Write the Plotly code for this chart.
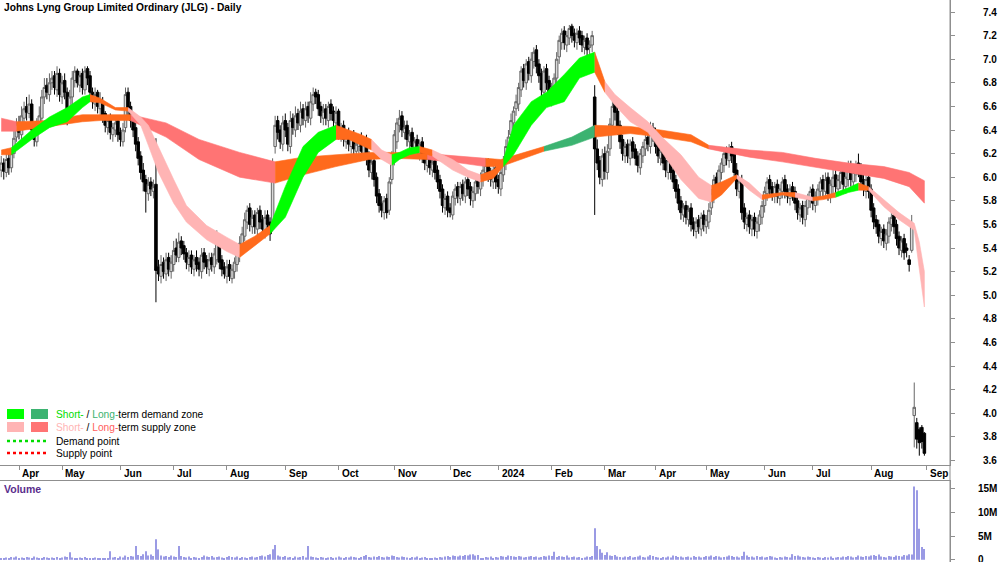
import pandas as pd
import plotly.graph_objects as go

# ---------------- calendar (ASX trading days) ----------------
holidays = ['2023-04-07', '2023-04-10', '2023-04-25', '2023-06-12', '2023-12-25', '2023-12-26',
            '2024-01-01', '2024-01-26', '2024-03-29', '2024-04-01', '2024-04-25', '2024-06-10']
dates = [d for d in pd.bdate_range('2023-03-23', '2024-08-30') if d.strftime('%Y-%m-%d') not in holidays]

month_labels = ['Apr', 'May', 'Jun', 'Jul', 'Aug', 'Sep', 'Oct', 'Nov', 'Dec', '2024',
                'Feb', 'Mar', 'Apr', 'May', 'Jun', 'Jul', 'Aug', 'Sep']

# ---------------- daily prices (cents) ----------------
opens = [
    606, 612, 604, 616, 608, 620, 634, 646, 636, 650,
    660, 654, 662, 640, 630, 646, 650, 668, 678, 670,
    680, 686, 674, 688, 668, 682, 672, 650, 668, 682,
    690, 678, 688, 674, 692, 686, 672, 662, 672, 658,
    664, 654, 642, 650, 636, 640, 648, 638, 630, 642,
    672, 660, 650, 642, 630, 618, 606, 598, 586, 596,
    588, 594, 524, 516, 528, 518, 532, 520, 526, 540,
    532, 546, 542, 536, 526, 534, 522, 532, 528, 520,
    536, 530, 522, 532, 524, 530, 550, 530, 524, 516,
    526, 514, 520, 526, 534, 542, 550, 562, 574, 558,
    568, 556, 572, 564, 554, 568, 562, 556, 626, 648,
    640, 628, 648, 642, 626, 650, 640, 654, 644, 658,
    648, 660, 650, 662, 672, 670, 660, 650, 658, 648,
    662, 656, 646, 656, 636, 644, 630, 638, 626, 636,
    622, 626, 634, 620, 632, 618, 604, 614, 600, 586,
    578, 570, 582, 572, 598, 616, 630, 644, 652, 638,
    644, 630, 638, 624, 632, 620, 630, 620, 610, 618,
    606, 614, 606, 598, 590, 574, 584, 574, 568, 582,
    592, 582, 594, 584, 598, 592, 580, 586, 598, 590,
    598, 604, 612, 604, 596, 608, 598, 590, 602, 612,
    624, 636, 646, 658, 662, 674, 692, 680, 698, 686,
    698, 708, 696, 688, 672, 692, 682, 666, 674, 684,
    702, 714, 724, 712, 718, 728, 722, 714, 724, 720,
    710, 718, 710, 712, 668, 624, 614, 598, 620, 604,
    624, 644, 664, 656, 644, 632, 618, 628, 616, 630,
    624, 618, 608, 618, 624, 634, 626, 642, 638, 628,
    616, 624, 614, 604, 616, 606, 598, 590, 580, 568,
    576, 564, 574, 562, 554, 564, 556, 568, 558, 562,
    574, 584, 600, 590, 604, 610, 622, 614, 626, 620,
    606, 588, 598, 574, 560, 568, 556, 566, 554, 560,
    566, 576, 586, 598, 592, 584, 594, 582, 588, 598,
    590, 582, 592, 588, 580, 568, 576, 564, 574, 580,
    590, 576, 582, 588, 598, 588, 600, 584, 592, 602,
    590, 596, 606, 592, 598, 610, 596, 602, 612, 608,
    598, 588, 600, 590, 574, 564, 560, 548, 556, 544,
    550, 560, 568, 560, 550, 538, 548, 540, 530, 538,
    398, 392, 386, 388, 383]
highs = [
    618, 616, 620, 622, 624, 640, 650, 652, 660, 664,
    668, 670, 666, 646, 650, 660, 674, 684, 684, 688,
    690, 690, 694, 692, 686, 688, 676, 674, 690, 694,
    692, 690, 692, 694, 694, 690, 676, 676, 674, 672,
    668, 656, 652, 654, 646, 650, 652, 642, 646, 676,
    676, 664, 654, 646, 634, 622, 612, 602, 600, 600,
    598, 633, 530, 534, 532, 536, 536, 534, 546, 548,
    553, 550, 546, 540, 538, 538, 534, 538, 532, 540,
    540, 534, 536, 536, 540, 555, 552, 534, 528, 530,
    530, 526, 532, 542, 550, 558, 570, 576, 578, 572,
    572, 574, 576, 568, 572, 572, 566, 616, 652, 652,
    644, 652, 654, 646, 656, 654, 660, 658, 664, 662,
    664, 664, 672, 676, 675, 674, 664, 662, 662, 664,
    666, 660, 660, 658, 646, 648, 640, 642, 638, 640,
    632, 636, 638, 634, 636, 622, 616, 618, 604, 590,
    584, 584, 586, 600, 622, 640, 650, 657, 656, 648,
    648, 640, 642, 634, 636, 632, 634, 624, 620, 622,
    616, 618, 610, 602, 594, 586, 588, 578, 588, 594,
    596, 596, 598, 600, 602, 596, 592, 600, 602, 604,
    612, 616, 616, 608, 610, 612, 602, 608, 618, 632,
    640, 654, 660, 670, 680, 694, 696, 700, 702, 706,
    710, 712, 700, 692, 694, 696, 686, 680, 688, 706,
    720, 726, 728, 724, 729, 730, 726, 726, 728, 724,
    720, 722, 716, 724, 678, 632, 618, 624, 626, 628,
    650, 670, 668, 660, 648, 636, 630, 632, 632, 634,
    628, 622, 624, 630, 636, 638, 647, 646, 642, 632,
    626, 628, 618, 618, 620, 610, 602, 594, 584, 578,
    580, 576, 578, 566, 566, 568, 570, 572, 568, 578,
    590, 602, 604, 610, 616, 624, 626, 628, 630, 624,
    612, 600, 602, 578, 570, 572, 568, 570, 566, 572,
    580, 592, 600, 602, 596, 596, 598, 594, 600, 602,
    594, 594, 596, 592, 584, 578, 580, 580, 586, 592,
    594, 588, 594, 600, 602, 604, 604, 598, 606, 606,
    602, 610, 612, 606, 614, 614, 610, 614, 620, 612,
    602, 602, 604, 594, 578, 568, 564, 558, 560, 556,
    566, 570, 572, 564, 554, 550, 552, 544, 534, 568,
    426, 396, 388, 390, 384]
lows = [
    600, 598, 600, 602, 604, 616, 630, 632, 632, 644,
    648, 650, 634, 626, 626, 640, 646, 662, 666, 664,
    674, 670, 668, 664, 662, 666, 644, 646, 662, 676,
    676, 672, 670, 670, 678, 666, 658, 656, 654, 652,
    646, 638, 636, 632, 630, 634, 630, 626, 626, 638,
    652, 642, 634, 622, 610, 598, 588, 570, 580, 584,
    582, 494, 512, 510, 514, 512, 516, 514, 520, 528,
    528, 534, 530, 522, 520, 518, 516, 520, 516, 514,
    522, 518, 516, 520, 518, 526, 522, 516, 514, 510,
    512, 510, 514, 520, 528, 536, 546, 556, 554, 552,
    552, 550, 556, 550, 548, 554, 546, 554, 620, 632,
    624, 622, 634, 622, 620, 636, 634, 640, 638, 644,
    642, 646, 644, 656, 662, 652, 646, 644, 644, 642,
    648, 642, 640, 632, 630, 626, 624, 622, 620, 618,
    616, 620, 616, 614, 610, 600, 598, 592, 578, 570,
    566, 564, 565, 568, 594, 610, 624, 638, 634, 632,
    626, 624, 620, 618, 616, 614, 612, 606, 604, 602,
    600, 598, 590, 582, 570, 568, 566, 566, 564, 576,
    578, 576, 580, 578, 584, 576, 574, 580, 586, 584,
    592, 598, 596, 592, 590, 590, 586, 584, 596, 606,
    618, 630, 640, 652, 656, 668, 676, 674, 682, 680,
    692, 688, 680, 668, 666, 674, 664, 660, 668, 678,
    696, 708, 708, 706, 712, 714, 710, 708, 712, 706,
    704, 702, 704, 706, 568, 606, 594, 592, 598, 598,
    618, 638, 648, 636, 624, 614, 612, 612, 610, 616,
    610, 604, 602, 612, 618, 622, 620, 630, 620, 612,
    610, 606, 600, 598, 598, 590, 582, 572, 564, 562,
    560, 558, 554, 550, 548, 552, 550, 554, 552, 556,
    568, 578, 586, 584, 598, 604, 610, 608, 612, 598,
    584, 582, 564, 556, 554, 552, 550, 550, 548, 554,
    560, 570, 580, 584, 580, 578, 578, 576, 582, 582,
    578, 576, 580, 572, 564, 562, 560, 558, 568, 574,
    572, 570, 576, 582, 584, 582, 580, 578, 586, 586,
    584, 590, 588, 586, 592, 592, 590, 596, 600, 590,
    584, 582, 582, 566, 556, 552, 544, 542, 540, 538,
    544, 554, 552, 542, 534, 532, 530, 532, 520, 536,
    371, 370, 364, 370, 364]
closes = [
    612, 605, 615, 608, 620, 633, 645, 638, 652, 658,
    655, 662, 640, 632, 645, 652, 668, 676, 672, 680,
    684, 676, 688, 670, 680, 672, 652, 668, 684, 690,
    680, 686, 676, 690, 684, 672, 664, 670, 660, 666,
    652, 644, 648, 638, 642, 646, 636, 632, 640, 670,
    658, 648, 640, 628, 616, 604, 596, 588, 594, 590,
    592, 521, 518, 526, 520, 530, 522, 528, 538, 534,
    545, 540, 535, 528, 532, 524, 530, 526, 522, 534,
    528, 524, 530, 526, 535, 548, 528, 522, 518, 524,
    516, 522, 528, 536, 544, 552, 564, 572, 560, 566,
    558, 570, 562, 556, 566, 560, 552, 610, 644, 638,
    630, 646, 640, 628, 648, 642, 652, 646, 656, 650,
    658, 652, 664, 670, 668, 658, 652, 656, 650, 660,
    654, 648, 655, 638, 642, 632, 636, 628, 634, 624,
    628, 632, 622, 630, 616, 606, 612, 598, 584, 576,
    572, 580, 570, 596, 618, 636, 646, 650, 640, 642,
    632, 636, 626, 630, 622, 628, 618, 612, 616, 608,
    612, 604, 596, 588, 576, 582, 572, 570, 584, 590,
    584, 592, 586, 596, 590, 582, 588, 596, 592, 600,
    606, 610, 602, 598, 606, 596, 592, 604, 612, 626,
    634, 648, 656, 664, 676, 690, 682, 696, 688, 700,
    706, 694, 686, 674, 690, 680, 668, 676, 684, 700,
    716, 722, 714, 720, 726, 720, 716, 722, 718, 712,
    716, 708, 712, 720, 624, 612, 600, 618, 605, 622,
    645, 660, 655, 643, 630, 620, 626, 618, 628, 622,
    616, 610, 620, 626, 632, 628, 640, 636, 626, 618,
    622, 612, 606, 614, 604, 596, 588, 578, 570, 574,
    566, 572, 560, 556, 562, 558, 566, 560, 564, 572,
    586, 598, 592, 606, 612, 620, 616, 624, 618, 604,
    590, 596, 570, 562, 566, 558, 564, 556, 562, 568,
    576, 588, 596, 590, 586, 592, 584, 590, 596, 588,
    584, 590, 586, 578, 570, 574, 566, 576, 582, 588,
    578, 584, 590, 596, 590, 598, 586, 594, 600, 592,
    598, 604, 594, 600, 608, 598, 604, 610, 606, 596,
    590, 598, 588, 572, 562, 558, 550, 554, 546, 552,
    562, 566, 558, 548, 540, 546, 536, 538, 526, 560,
    405, 378, 375, 376, 366]
# volume in units of 100,000 shares
volume_100k = [
    4, 3, 5, 4, 6, 5, 7, 4, 5, 3,
    6, 5, 4, 7, 5, 3, 4, 6, 5, 4,
    5, 3, 6, 4, 5, 7, 6, 16, 5, 4,
    3, 5, 4, 6, 3, 2, 4, 5, 3, 4,
    3, 2, 4, 18, 5, 6, 4, 7, 5, 9,
    6, 8, 7, 29, 10, 8, 12, 18, 9, 11,
    8, 43, 22, 9, 7, 8, 6, 9, 7, 6,
    29, 8, 6, 5, 7, 4, 6, 5, 4, 6,
    9, 7, 6, 8, 5, 6, 7, 5, 4, 6,
    8, 6, 5, 7, 4, 6, 5, 4, 6, 7,
    5, 6, 8, 9, 7, 10, 12, 22, 31, 9,
    7, 6, 8, 5, 6, 4, 7, 5, 6, 8,
    5, 29, 7, 6, 5, 4, 6, 5, 4, 5,
    6, 4, 5, 7, 5, 4, 6, 5, 7, 6,
    5, 4, 6, 8, 10, 6, 5, 7, 6, 8,
    6, 5, 7, 6, 9, 8, 6, 5, 7, 6,
    5, 4, 6, 5, 7, 4, 5, 6, 4, 3,
    4, 5, 3, 6, 5, 7, 8, 6, 9, 8,
    7, 9, 8, 10, 9, 11, 12, 9, 10, 3,
    2, 6, 5, 7, 4, 6, 5, 8, 7, 6,
    9, 8, 7, 6, 8, 7, 5, 6, 7, 8,
    6, 7, 5, 6, 8, 7, 9, 8, 17, 6,
    8, 7, 6, 9, 5, 6, 7, 5, 6, 4,
    5, 7, 6, 8, 66, 29, 22, 15, 10, 16,
    9, 8, 10, 7, 6, 5, 7, 6, 8, 5,
    6, 7, 9, 6, 5, 7, 10, 8, 6, 5,
    4, 6, 5, 7, 5, 9, 8, 6, 7, 5,
    6, 7, 5, 8, 6, 7, 5, 6, 8, 7,
    9, 6, 8, 7, 5, 6, 7, 9, 8, 6,
    7, 5, 8, 17, 9, 6, 7, 5, 8, 6,
    7, 5, 6, 8, 7, 5, 4, 6, 5, 7,
    6, 5, 12, 8, 9, 7, 6, 5, 7, 6,
    5, 4, 6, 5, 4, 6, 5, 7, 4, 5,
    6, 5, 7, 6, 8, 7, 5, 6, 9, 7,
    6, 8, 7, 9, 10, 8, 11, 7, 6, 5,
    8, 7, 6, 9, 8, 7, 10, 9, 12, 11,
    154, 146, 65, 27, 23]

# ---------------- zone bands (sampled at trading-day index) ----------------
lt_idx = [0, 6, 19, 32, 39, 51, 65, 78, 94, 108, 119, 132, 145, 155, 168, 181, 191, 197,
          214, 225, 234, 248, 260, 272, 279, 295, 308, 321, 334, 348, 358, 364]
lt_hi = [6.50, 6.47, 6.48, 6.53, 6.53, 6.53, 6.46, 6.32, 6.21, 6.13, 6.17, 6.19, 6.21, 6.21,
         6.20, 6.18, 6.16, 6.15, 6.26, 6.34, 6.44, 6.43, 6.40, 6.36, 6.27, 6.23, 6.21, 6.16,
         6.12, 6.09, 6.04, 5.97]
lt_lo = [6.39, 6.39, 6.43, 6.47, 6.48, 6.48, 6.34, 6.15, 6.00, 5.95, 6.02, 6.09, 6.15, 6.16,
         6.15, 6.12, 6.09, 6.09, 6.22, 6.27, 6.34, 6.37, 6.34, 6.30, 6.24, 6.17, 6.13, 6.09,
         6.04, 5.99, 5.92, 5.78]
lt_segments = [(0, 6, 'r'), (6, 51, 'o'), (51, 108, 'r'), (108, 168, 'o'), (168, 191, 'r'),
               (191, 214, 'o'), (214, 234, 'd'), (234, 279, 'o'), (279, 364, 'r')]

st_idx = [0, 4, 12, 19, 26, 32, 35, 39, 45, 50, 55, 58, 62, 68, 73, 81, 89, 94, 100, 106,
          112, 119, 125, 132, 137, 142, 146, 150, 154, 157, 161, 165, 170, 178, 184, 189,
          194, 198, 202, 209, 215, 222, 228, 234, 238, 242, 248, 255, 261, 268, 275, 280,
          284, 290, 295, 300, 308, 313, 320, 324, 329, 334, 338, 342, 348, 354, 360, 362, 364]
st_hi = [6.23, 6.25, 6.40, 6.51, 6.59, 6.68, 6.70, 6.67, 6.59, 6.59, 6.51, 6.44, 6.25, 5.98,
         5.76, 5.59, 5.49, 5.43, 5.50, 5.59, 5.92, 6.26, 6.38, 6.44, 6.40, 6.36, 6.32, 6.23,
         6.19, 6.21, 6.25, 6.26, 6.23, 6.15, 6.06, 6.02, 6.06, 6.15, 6.44, 6.64, 6.72, 6.87,
         7.01, 7.06, 6.81, 6.70, 6.59, 6.47, 6.33, 6.19, 6.00, 5.93, 5.96, 6.02, 5.95, 5.85,
         5.87, 5.87, 5.83, 5.84, 5.87, 5.91, 5.95, 5.92, 5.81, 5.70, 5.61, 5.45, 5.20]
st_lo = [6.19, 6.19, 6.32, 6.42, 6.47, 6.59, 6.64, 6.63, 6.57, 6.56, 6.44, 6.27, 6.04, 5.78,
         5.62, 5.47, 5.37, 5.32, 5.42, 5.52, 5.66, 6.00, 6.21, 6.32, 6.32, 6.27, 6.23, 6.15,
         6.10, 6.15, 6.19, 6.21, 6.18, 6.06, 6.00, 5.96, 5.99, 6.09, 6.19, 6.44, 6.59, 6.64,
         6.84, 6.89, 6.72, 6.61, 6.47, 6.38, 6.19, 5.98, 5.82, 5.79, 5.85, 5.99, 5.89, 5.81,
         5.85, 5.83, 5.80, 5.81, 5.83, 5.87, 5.89, 5.89, 5.75, 5.64, 5.55, 5.22, 4.90]
st_segments = [(0, 4, 'o'), (4, 35, 'g'), (35, 50, 'o'), (50, 94, 'p'), (94, 106, 'o'),
               (106, 132, 'g'), (132, 146, 'o'), (146, 154, 'p'), (154, 165, 'g'), (165, 170, 'o'),
               (170, 189, 'p'), (189, 198, 'o'), (198, 234, 'g'), (234, 238, 'o'), (238, 280, 'p'),
               (280, 290, 'o'), (290, 300, 'p'), (300, 313, 'o'), (313, 320, 'p'), (320, 329, 'o'),
               (329, 338, 'g'), (338, 342, 'o'), (342, 364, 'p')]

zone_colors = {'g': '#00ff00', 'd': '#3cb371', 'p': '#ffb4b4', 'r': '#ff7474', 'o': '#ff6a1c'}

# ---------------- figure ----------------
n = len(closes)
idx = list(range(n))
W, H, PW = 1000, 562, 950
price_bottom_px, vol_top_px = 465, 481
axc = '#8f8f8f'
fnt = 'Liberation Sans, Arial, sans-serif'

fig = go.Figure()


def add_band(b_idx, b_hi, b_lo, segs):
    for s, e, k in segs:
        sel = [j for j, i in enumerate(b_idx) if s <= i <= e]
        xs = [b_idx[j] for j in sel]
        hi = [b_hi[j] for j in sel]
        lo = [b_lo[j] for j in sel]
        c = zone_colors[k]
        fig.add_trace(go.Scatter(x=xs + xs[::-1], y=hi + lo[::-1], fill='toself', fillcolor=c,
                                 mode='lines', line=dict(color=c, width=0.6), hoverinfo='skip',
                                 xaxis='x', yaxis='y'))


add_band(lt_idx, lt_hi, lt_lo, lt_segments)
add_band(st_idx, st_hi, st_lo, st_segments)

fig.add_trace(go.Candlestick(
    x=idx, open=[v / 100 for v in opens], high=[v / 100 for v in highs],
    low=[v / 100 for v in lows], close=[v / 100 for v in closes],
    increasing=dict(line=dict(color='#666666', width=1), fillcolor='#d9d9d9'),
    decreasing=dict(line=dict(color='#000000', width=1), fillcolor='#000000'),
    whiskerwidth=0, xaxis='x', yaxis='y', hoverinfo='skip'))

fig.add_trace(go.Bar(x=idx, y=[v * 1e5 for v in volume_100k], width=0.42,
                     marker=dict(color='#9a9ae4', line=dict(width=0)),
                     xaxis='x2', yaxis='y2', hoverinfo='skip'))

# month tick positions (first trading day of each month, plus next month after end)
month_pos = [i for i in range(1, n) if dates[i].month != dates[i - 1].month] + [n]
month_pos = month_pos[:len(month_labels)]

xr = [-0.49, 374.1]
price_tickvals = [round(3.6 + 0.2 * k, 1) for k in range(20)]

fig.update_layout(
    width=W, height=H, margin=dict(l=0, r=W - PW, t=0, b=0, autoexpand=False),
    paper_bgcolor='white', plot_bgcolor='white', showlegend=False, hovermode=False,
    boxgap=0, boxgroupgap=0,
    xaxis=dict(domain=[0, 1], range=xr, anchor='y', showticklabels=False, ticks='outside',
               ticklen=4, tickcolor=axc, tickvals=month_pos, showline=True, linecolor=axc,
               linewidth=1, showgrid=False, zeroline=False, rangeslider=dict(visible=False),
               automargin=False),
    xaxis2=dict(domain=[0, 1], range=xr, anchor='y2', side='top', showticklabels=False,
                ticks='', showline=True, linecolor=axc, linewidth=1, showgrid=False,
                zeroline=False, automargin=False),
    yaxis=dict(domain=[1 - price_bottom_px / H, 1], range=[3.561, 7.5017], side='right',
               tickvals=price_tickvals, ticktext=['%.1f' % v for v in price_tickvals],
               ticks='outside', ticklen=4, tickcolor=axc, showline=True, linecolor=axc,
               showgrid=False, zeroline=False, ticklabelstandoff=26, automargin=False,
               tickfont=dict(family=fnt, size=10, color='black', weight='bold')),
    yaxis2=dict(domain=[0, 1 - vol_top_px / H], range=[-0.45e6, 16.53e6], side='right',
                tickvals=[0, 5e6, 10e6, 15e6], ticktext=['0', '5M', '10M', '15M'],
                ticks='outside', ticklen=4, tickcolor=axc, showline=True, linecolor=axc,
                showgrid=False, zeroline=False, ticklabelstandoff=21,
                ticklabeloverflow='allow', automargin=False,
                tickfont=dict(family=fnt, size=10, color='black', weight='bold')),
)


def px_x(x):
    return x / PW


def px_y(y):
    return 1 - y / H


shapes = [
    dict(type='line', xref='paper', yref='paper', x0=1, x1=1, y0=0, y1=1,
         line=dict(color=axc, width=1)),
    dict(type='rect', xref='paper', yref='paper', x0=px_x(7), x1=px_x(24), y0=px_y(419), y1=px_y(409),
         fillcolor=zone_colors['g'], line=dict(width=0)),
    dict(type='rect', xref='paper', yref='paper', x0=px_x(31), x1=px_x(48), y0=px_y(419), y1=px_y(409),
         fillcolor=zone_colors['d'], line=dict(width=0)),
    dict(type='rect', xref='paper', yref='paper', x0=px_x(7), x1=px_x(24), y0=px_y(432), y1=px_y(422),
         fillcolor=zone_colors['p'], line=dict(width=0)),
    dict(type='rect', xref='paper', yref='paper', x0=px_x(31), x1=px_x(48), y0=px_y(432), y1=px_y(422),
         fillcolor=zone_colors['r'], line=dict(width=0)),
    dict(type='line', xref='paper', yref='paper', x0=px_x(7), x1=px_x(46), y0=px_y(441), y1=px_y(441),
         line=dict(color='#00dd00', width=2.5, dash='dot')),
    dict(type='line', xref='paper', yref='paper', x0=px_x(7), x1=px_x(46), y0=px_y(453), y1=px_y(453),
         line=dict(color='#ff0000', width=2.5, dash='dot')),
]

annotations = [
    dict(xref='paper', yref='paper', x=px_x(2), y=px_y(7), xanchor='left', yanchor='middle',
         text='<b>Johns Lyng Group Limited Ordinary (JLG) - Daily</b>', showarrow=False,
         font=dict(family=fnt, size=10.2, color='black')),
    dict(xref='paper', yref='paper', x=px_x(2), y=px_y(489), xanchor='left', yanchor='middle',
         text='<b>Volume</b>', showarrow=False, font=dict(family=fnt, size=10.5, color='#5a2d8c')),
    dict(xref='paper', yref='paper', x=px_x(54), y=px_y(414), xanchor='left', yanchor='middle',
         text='<span style="color:#00dd00">Short-</span> / <span style="color:#3cb371">Long-</span>term demand zone',
         showarrow=False, font=dict(family=fnt, size=10.2, color='black')),
    dict(xref='paper', yref='paper', x=px_x(54), y=px_y(427), xanchor='left', yanchor='middle',
         text='<span style="color:#ffb4b4">Short-</span> / <span style="color:#ff6060">Long-</span>term supply zone',
         showarrow=False, font=dict(family=fnt, size=10.2, color='black')),
    dict(xref='paper', yref='paper', x=px_x(54), y=px_y(441), xanchor='left', yanchor='middle',
         text='Demand point', showarrow=False, font=dict(family=fnt, size=10.2, color='black')),
    dict(xref='paper', yref='paper', x=px_x(54), y=px_y(453), xanchor='left', yanchor='middle',
         text='Supply point', showarrow=False, font=dict(family=fnt, size=10.2, color='black')),
]
for pos, lab in zip(month_pos, month_labels):
    annotations.append(dict(xref='x', yref='paper', x=pos + 0.5, y=px_y(473), xanchor='left',
                            yanchor='middle', text='<b>%s</b>' % lab, showarrow=False,
                            font=dict(family=fnt, size=10, color='black')))

fig.update_layout(shapes=shapes, annotations=annotations)
fig.write_html('out.html')
